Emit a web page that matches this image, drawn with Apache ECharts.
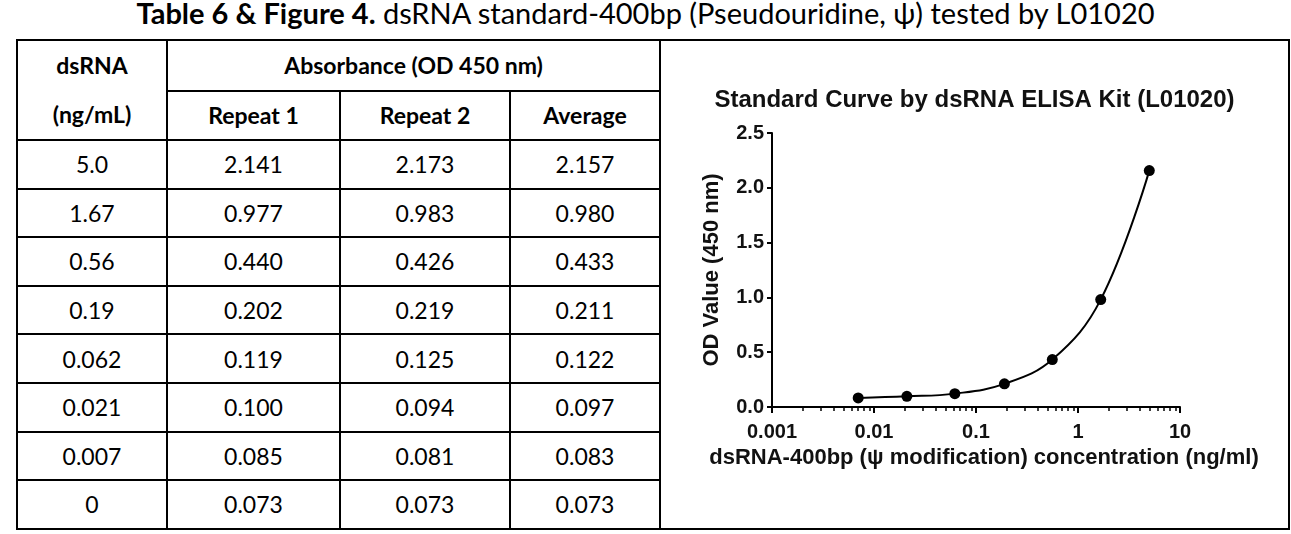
<!DOCTYPE html>
<html>
<head>
<meta charset="utf-8">
<title>dsRNA standard curve</title>
<script src="https://cdn.jsdelivr.net/npm/echarts@6/dist/echarts.min.js"></script>
<style>
html, body { margin: 0; padding: 0; background: #fff; }
body { width: 1291px; height: 534px; position: relative; overflow: hidden; font-family: Lato, "Noto Sans", sans-serif; color: #000; }
#caption { position: absolute; left: 0; top: -1px; width: 1291px; height: 28px; line-height: 28px; text-align: center; font-size: 29px; white-space: nowrap; }
#tbl { position: absolute; left: 16px; top: 39px; width: 1274px; border-collapse: collapse; table-layout: fixed; }
#tbl td { border: 2px solid #000; text-align: center; font-size: 23px; padding: 0; }
#tbl td.h { font-weight: bold; }
#chart { position: absolute; left: 661px; top: 41px; width: 627px; height: 486px; }
</style>
</head>
<body>
<div id="caption"><b>Table 6 &amp; Figure 4.</b> dsRNA standard-400bp (Pseudouridine, ψ) tested by L01020</div>
<table id="tbl"></table>
<div id="chart"></div>
<script>
// 表格数据
var concLabels = ['5.0', '1.67', '0.56', '0.19', '0.062', '0.021', '0.007', '0'];
var repeat1 = [2.141, 0.977, 0.440, 0.202, 0.119, 0.100, 0.085, 0.073];
var repeat2 = [2.173, 0.983, 0.426, 0.219, 0.125, 0.094, 0.081, 0.073];
var average = [2.157, 0.980, 0.433, 0.211, 0.122, 0.097, 0.083, 0.073];

// 坐标轴刻度
var xMajorTicks = [0.001, 0.01, 0.1, 1, 10];
var xMinorTicks = [0.002, 0.003, 0.004, 0.005, 0.006, 0.007, 0.008, 0.009,
    0.02, 0.03, 0.04, 0.05, 0.06, 0.07, 0.08, 0.09,
    0.2, 0.3, 0.4, 0.5, 0.6, 0.7, 0.8, 0.9,
    2, 3, 4, 5, 6, 7, 8, 9];

var chartFont = '"Liberation Sans", Arial, sans-serif';

function build_table() {
    var html = '<colgroup><col style="width:150px"><col style="width:173px"><col style="width:170px"><col style="width:150px"><col style="width:629px"></colgroup>';
    html += '<tr style="height:50px"><td class="h" rowspan="2" style="line-height:49px">dsRNA<br>(ng/mL)</td>' +
        '<td class="h" colspan="3">Absorbance (OD 450 nm)</td><td rowspan="10"></td></tr>';
    html += '<tr style="height:49px"><td class="h">Repeat 1</td><td class="h">Repeat 2</td><td class="h">Average</td></tr>';
    for (var i = 0; i < concLabels.length; i++) {
        html += '<tr style="height:48.6px"><td>' + concLabels[i] + '</td><td>' + repeat1[i].toFixed(3) +
            '</td><td>' + repeat2[i].toFixed(3) + '</td><td>' + average[i].toFixed(3) + '</td></tr>';
    }
    document.getElementById('tbl').innerHTML = html;
}

function show_curve() {
    var points = [];
    for (var i = 0; i < concLabels.length; i++) {
        var c = parseFloat(concLabels[i]);
        if (c > 0) points.push([c, average[i]]);   // 0 不能画在对数轴上
    }

    var myChart = echarts.init(document.getElementById('chart'));
    var gridRect = {left: 111, top: 92, width: 408, height: 274};

    var option = {
        animation: false,
        title: {
            text: 'Standard Curve by dsRNA ELISA Kit (L01020)',
            left: 'center',
            top: 42,
            textStyle: {fontFamily: chartFont, fontWeight: 'bold', fontSize: 24, color: '#111'}
        },
        grid: [
            {left: gridRect.left, top: gridRect.top, width: gridRect.width, height: gridRect.height},
            {left: gridRect.left, top: gridRect.top, width: gridRect.width, height: gridRect.height}
        ],
        xAxis: [
            {
                type: 'log', logBase: 10, min: 0.001, max: 10, gridIndex: 0,
                name: 'dsRNA-400bp (ψ modification) concentration (ng/ml)',
                nameLocation: 'middle', nameGap: 35,
                nameTextStyle: {fontFamily: chartFont, fontWeight: 'bold', fontSize: 22, color: '#111', padding: [0, 0, 0, 16]},
                axisLine: {lineStyle: {color: '#000', width: 2}},
                axisTick: {customValues: xMajorTicks, length: 6, lineStyle: {color: '#000', width: 2}},
                axisLabel: {
                    customValues: xMajorTicks, margin: 15,
                    fontFamily: chartFont, fontWeight: 'bold', fontSize: 20, color: '#111',
                    formatter: function (v) { return String(+v.toPrecision(1)); }
                },
                splitLine: {show: false}
            },
            {
                type: 'log', logBase: 10, min: 0.001, max: 10, gridIndex: 1,
                axisLine: {show: false},
                axisTick: {customValues: xMinorTicks, length: 4, lineStyle: {color: '#000', width: 1.5}},
                axisLabel: {show: false},
                splitLine: {show: false}
            }
        ],
        yAxis: [
            {
                type: 'value', min: 0, max: 2.5, interval: 0.5, gridIndex: 0,
                name: 'OD Value (450 nm)',
                nameLocation: 'middle', nameGap: 49, nameRotate: 90,
                nameTextStyle: {fontFamily: chartFont, fontWeight: 'bold', fontSize: 22, color: '#111'},
                axisLine: {show: true, lineStyle: {color: '#000', width: 2}},
                axisTick: {show: true, length: 5, lineStyle: {color: '#000', width: 2}},
                axisLabel: {
                    margin: 8, fontFamily: chartFont, fontWeight: 'bold', fontSize: 20, color: '#111',
                    formatter: function (v) { return v.toFixed(1); }
                },
                splitLine: {show: false}
            },
            {type: 'value', min: 0, max: 1, gridIndex: 1, show: false}
        ],
        series: [{
            type: 'line',
            xAxisIndex: 0, yAxisIndex: 0,
            data: points,
            smooth: 0.4,
            symbol: 'circle',
            symbolSize: 11,
            showAllSymbol: true,
            lineStyle: {color: '#000', width: 2},
            itemStyle: {color: '#000'}
        }]
    };

    myChart.setOption(option);
}

build_table();
show_curve();
</script>
</body>
</html>
